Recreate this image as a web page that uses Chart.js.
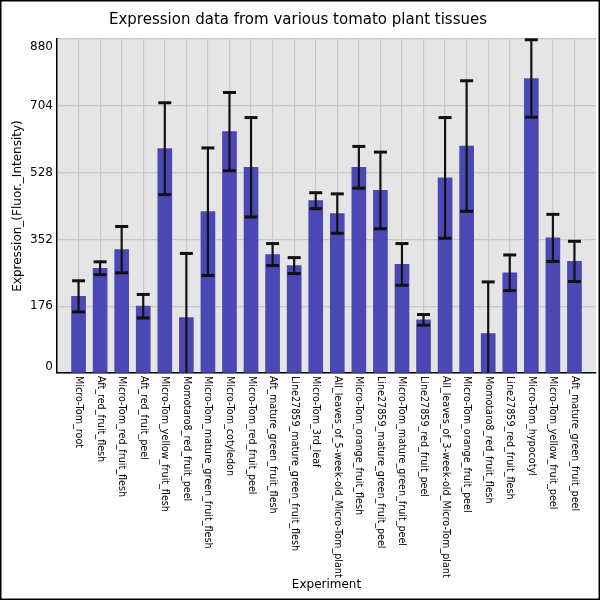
<!DOCTYPE html>
<html>
<head>
<meta charset="utf-8">
<script src="https://cdn.jsdelivr.net/npm/chart.js@4.4.0/dist/chart.umd.min.js"></script>
<style>
  html, body { margin: 0; padding: 0; background: #fff; }
  #wrap { width: 600px; height: 600px; position: relative; }
</style>
</head>
<body>
<div id="wrap"><canvas id="expressionChart"></canvas></div>
<script>
const experiments = [
    'Micro-Tom_root', 'Aft_red_fruit_flesh', 'Micro-Tom_red_fruit_flesh', 'Aft_red_fruit_peel',
    'Micro-Tom_yellow_fruit_flesh', 'Momotaro8_red_fruit_peel', 'Micro-Tom_mature_green_fruit_flesh',
    'Micro-Tom_cotyledon', 'Micro-Tom_red_fruit_peel', 'Aft_mature_green_fruit_flesh',
    'Line27859_mature_green_fruit_flesh', 'Micro-Tom_3rd_leaf', 'All_leaves_of_5-week-old_Micro-Tom_plant',
    'Micro-Tom_orange_fruit_flesh', 'Line27859_mature_green_fruit_peel', 'Micro-Tom_mature_green_fruit_peel',
    'Line27859_red_fruit_peel', 'All_leaves_of_3-week-old_Micro-Tom_plant', 'Micro-Tom_orange_fruit_peel',
    'Momotaro8_red_fruit_flesh', 'Line27859_red_fruit_flesh', 'Micro-Tom_hypocotyl',
    'Micro-Tom_yellow_fruit_peel', 'Aft_mature_green_fruit_peel'
];
const expression = [202, 276, 325, 176, 591, 146, 425, 636, 542, 312, 283, 454,
                    420, 542, 481, 286, 140, 514, 598, 104, 264, 776, 356, 294];
const errors = [41, 17, 61, 31, 121, 169, 168, 103, 131, 29, 21, 21,
                52, 55, 101, 55, 14, 159, 172, 136, 47, 102, 62, 53];
const yTicks = [0, 176, 352, 528, 704, 880];

const FONT = '"DejaVu Sans", sans-serif';

// grey plot background, hand drawn tick labels and outer frame
const frame = {
    id: 'frame',
    beforeDraw(chart) {
        const {ctx, chartArea: a} = chart;
        ctx.save();
        ctx.fillStyle = '#fff';
        ctx.fillRect(0, 0, chart.width, chart.height);
        ctx.fillStyle = '#e5e5e5';
        ctx.fillRect(a.left, a.top, a.right - a.left, a.bottom - a.top);
        ctx.restore();
    },
    afterDraw(chart) {
        const {ctx, chartArea: a, scales} = chart;
        ctx.save();
        ctx.fillStyle = '#000';
        ctx.font = '9.6px ' + FONT;
        ctx.textAlign = 'left';
        ctx.textBaseline = 'middle';
        experiments.forEach((name, i) => {
            const x = scales.x.getPixelForValue(i);
            ctx.save();
            ctx.translate(x, a.bottom + 3);
            ctx.rotate(Math.PI / 2);
            ctx.fillText(name, 0, 0);
            ctx.restore();
        });
        ctx.font = '12px ' + FONT;
        ctx.textAlign = 'right';
        yTicks.forEach(v => {
            let y = scales.y.getPixelForValue(v);
            y = Math.min(Math.max(y, a.top + 8), a.bottom - 6);
            ctx.fillText(String(v), a.left - 4, y);
        });
        ctx.lineWidth = 3;
        ctx.strokeStyle = '#000';
        ctx.strokeRect(0, 0, chart.width, chart.height);
        ctx.restore();
    }
};

const ctx = document.getElementById('expressionChart').getContext('2d');

new Chart(ctx, {
    type: 'bar',
    data: {
        datasets: [{
            label: 'Expression',
            data: expression.map((v, i) => ({x: i, y: v})),
            backgroundColor: '#4b47b4',
            barThickness: 14,
            grouped: false,
            order: 3
        },
        {
            label: 'Error',
            data: expression.map((v, i) => ({x: i, y: [v - errors[i], v + errors[i]]})),
            backgroundColor: '#111',
            barThickness: 1.5,
            grouped: false,
            order: 2
        },
        {
            type: 'line',
            label: 'Upper',
            data: expression.map((v, i) => ({x: i, y: v + errors[i]})),
            showLine: false,
            pointStyle: 'line',
            pointRadius: 6.5,
            pointBorderWidth: 3,
            pointBorderColor: '#111',
            clip: 4,
            order: 1
        },
        {
            type: 'line',
            label: 'Lower',
            data: expression.map((v, i) => ({x: i, y: v - errors[i]})),
            showLine: false,
            pointStyle: 'line',
            pointRadius: 6.5,
            pointBorderWidth: 3,
            pointBorderColor: '#111',
            clip: 4,
            order: 1
        }]
    },
    options: {
        responsive: true,
        maintainAspectRatio: false,
        animation: false,
        layout: { autoPadding: false, padding: { left: 0, right: 4, top: 0, bottom: 0 } },
        plugins: {
            legend: { display: false },
            tooltip: { enabled: false },
            title: {
                display: true,
                text: 'Expression data from various tomato plant tissues',
                color: '#000',
                font: { family: FONT, size: 15, weight: 'normal' },
                padding: { top: 11, bottom: 10 }
            }
        },
        scales: {
            x: {
                type: 'linear',
                min: -1,
                max: 24,
                offset: false,
                afterBuildTicks: s => { s.ticks = experiments.map((_, i) => ({value: i})); },
                afterFit: s => { s.height = 227; },
                ticks: { display: false },
                grid: { color: '#c8c8c8', lineWidth: 1.2, drawTicks: false, offset: false },
                border: { color: '#000', width: 1.5 },
                title: {
                    display: true,
                    text: 'Experiment',
                    color: '#000',
                    font: { family: FONT, size: 12 },
                    padding: { top: 0, bottom: 8 }
                }
            },
            y: {
                min: 0,
                max: 880,
                afterBuildTicks: s => { s.ticks = yTicks.map(v => ({value: v})); },
                afterFit: s => { s.width = 57; },
                ticks: { display: false },
                grid: { color: '#c8c8c8', lineWidth: 1.2, drawTicks: false },
                border: { color: '#000', width: 1.5 },
                title: {
                    display: true,
                    text: 'Expression_(Fluor._Intensity)',
                    color: '#000',
                    font: { family: FONT, size: 12 },
                    padding: { top: 11, bottom: 0 }
                }
            }
        }
    },
    plugins: [frame]
});
</script>
</body>
</html>
